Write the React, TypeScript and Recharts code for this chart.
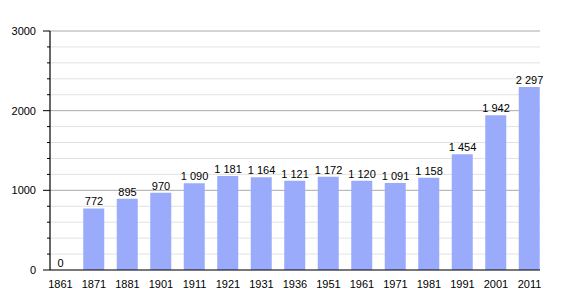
import React from "react";
import { ComposedChart, Bar, Line, XAxis, YAxis, CartesianGrid, LabelList } from "recharts";

const years = ["1861", "1871", "1881", "1901", "1911", "1921", "1931", "1936", "1951", "1961", "1971", "1981", "1991", "2001", "2011"];
const population = [0, 772, 895, 970, 1090, 1181, 1164, 1121, 1172, 1120, 1091, 1158, 1454, 1942, 2297];
const yTicks = [0, 200, 400, 600, 800, 1000, 1200, 1400, 1600, 1800, 2000, 2200, 2400, 2600, 2800, 3000];

const data = years.map((y, i) => ({ i, year: y, pop: population[i] }));

const FONT = "'Liberation Sans', Arial, sans-serif";

const fmt = (v: number) => {
  const s = String(v);
  return s.length > 3 ? s.slice(0, s.length - 3) + "\u00a0" + s.slice(s.length - 3) : s;
};

const YTick = (props: any) => {
  const { x, y, payload } = props;
  const v = payload.value;
  const major = v % 1000 === 0;
  return (
    <g>
      <line x1={major ? x - 7 : x - 3} x2={x} y1={y} y2={y} stroke="#000" strokeWidth={1} />
      {major && (
        <text x={x - 14} y={y} dy={4} textAnchor="end" fontSize={11} fontFamily={FONT} fill="#000">
          {v}
        </text>
      )}
    </g>
  );
};

const ValueLabel = (props: any) => {
  const { x, y, value } = props;
  return (
    <text x={x} y={y - 3} textAnchor="middle" fontSize={11} fontFamily={FONT} fill="#000">
      {fmt(Number(value))}
    </text>
  );
};

const GridLine = (props: any) => {
  const { x1, x2, y1, y2, index } = props;
  const major = index % 5 === 0 && index > 0;
  return (
    <line
      key={`g-${index}`}
      x1={x1}
      x2={x2}
      y1={y1}
      y2={y2}
      stroke={major ? "#aaaaaa" : "#e2e2e2"}
      strokeWidth={1}
    />
  );
};

export default function App() {
  return (
    <ComposedChart
      width={570}
      height={300}
      data={data}
      margin={{ top: 23, right: 38, bottom: 8, left: 0 }}
      style={{ fontFamily: FONT }}
    >
      <CartesianGrid vertical={false} horizontal={GridLine as any} />
      <XAxis
        dataKey="i"
        type="number"
        domain={[-0.3134, 14.3134]}
        ticks={years.map((_, i) => i)}
        tickFormatter={(i: number) => years[i]}
        interval={0}
        allowDataOverflow
        height={30}
        tickLine={false}
        tickMargin={4}
        axisLine={{ stroke: "#000", strokeWidth: 1.2 }}
        tick={{ fontSize: 11, fill: "#000", fontFamily: FONT }}
      />
      <YAxis
        type="number"
        domain={[0, 3000]}
        ticks={yTicks}
        interval={0}
        width={42}
        tickSize={0}
        tickMargin={0}
        tickLine={false}
        axisLine={{ stroke: "#000", strokeWidth: 1.2 }}
        tick={<YTick />}
      />
      <Bar dataKey="pop" fill="#9aabfc" barSize={21} isAnimationActive={false} />
      <Line dataKey="pop" stroke="none" dot={false} activeDot={false} isAnimationActive={false}>
        <LabelList dataKey="pop" content={<ValueLabel />} />
      </Line>
    </ComposedChart>
  );
}
